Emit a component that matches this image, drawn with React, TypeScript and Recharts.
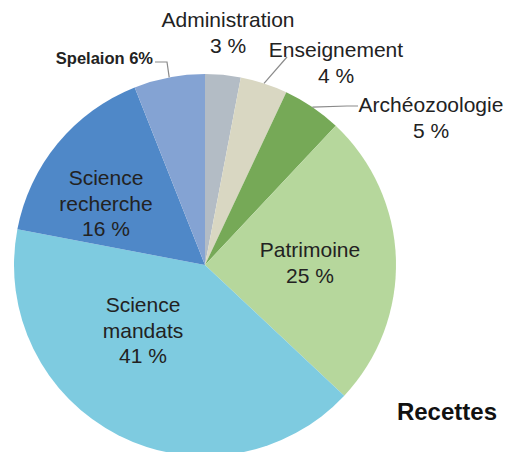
import { PieChart, Pie, Cell } from 'recharts';

const categories = [
  'Administration',
  'Enseignement',
  'Archéozoologie',
  'Patrimoine',
  'Science mandats',
  'Science recherche',
  'Spelaion',
];
const shares = [3, 4, 5, 25, 41, 16, 6];
const colors = ['#b3bcc5', '#d9d7c2', '#76a957', '#b6d79c', '#7ecbe0', '#4f88c8', '#84a3d3'];
const title = 'Recettes';

const data = categories.map((name, i) => ({ name, value: shares[i] }));

// label placement relative to the pie centre (first baseline), plus leader line bends
const labelPos = [
  { dx: 23, dy: -238, line: null },
  { dx: 131, dy: -208, line: [[82, -208]] },
  { dx: 226, dy: -153, line: [[142, -159], [153, -159]] },
  { dx: 105, dy: -8, line: null },
  { dx: -62, dy: 47, line: null },
  { dx: -99, dy: -80, line: null },
  { dx: -52, dy: -201, line: [[-38, -203], [-50, -203]], bold: true },
];

const RAD = Math.PI / 180;

const renderLabel = (props: any) => {
  const { cx, cy, midAngle, outerRadius, index, name, value } = props;
  const pos = labelPos[index];
  const x = cx + pos.dx;
  const y = cy + pos.dy;
  let leader = null;
  if (pos.line) {
    const sx = cx + outerRadius * Math.cos(-midAngle * RAD);
    const sy = cy + outerRadius * Math.sin(-midAngle * RAD);
    const pts = [[sx, sy], ...pos.line.map(([a, b]) => [cx + a, cy + b])];
    leader = (
      <polyline
        points={pts.map((p) => p.join(',')).join(' ')}
        fill="none"
        stroke="#8a8a8a"
        strokeWidth={1.2}
      />
    );
  }
  if (pos.bold) {
    return (
      <g key={`l${index}`}>
        {leader}
        <text x={x} y={y} textAnchor="end" fontSize={16.5} fontWeight="bold" fill="#222">
          {`${name} ${value}%`}
        </text>
      </g>
    );
  }
  const lines = [...String(name).split(' '), `${value} %`];
  return (
    <g key={`l${index}`}>
      {leader}
      <text x={x} textAnchor="middle" fontSize={21} fill="#222">
        {lines.map((t, i) => (
          <tspan key={i} x={x} y={y + i * 25.5}>
            {t}
          </tspan>
        ))}
      </text>
    </g>
  );
};

export default function App() {
  return (
    <div
      style={{
        position: 'absolute',
        left: 0,
        top: 0,
        width: 507,
        height: 452,
        background: '#fff',
        fontFamily: '"Liberation Sans", Arial, sans-serif',
      }}
    >
      <PieChart width={507} height={452} margin={{ top: 0, right: 0, bottom: 0, left: 0 }}>
        <Pie
          data={data}
          dataKey="value"
          nameKey="name"
          cx={205}
          cy={265}
          outerRadius={191}
          startAngle={90}
          endAngle={-270}
          stroke="none"
          label={renderLabel}
          labelLine={false}
          isAnimationActive={false}
        >
          {data.map((d, i) => (
            <Cell key={d.name} fill={colors[i]} />
          ))}
        </Pie>
        <text x={497} y={420} textAnchor="end" fontSize={24} fontWeight="bold" fill="#111">
          {title}
        </text>
      </PieChart>
    </div>
  );
}
